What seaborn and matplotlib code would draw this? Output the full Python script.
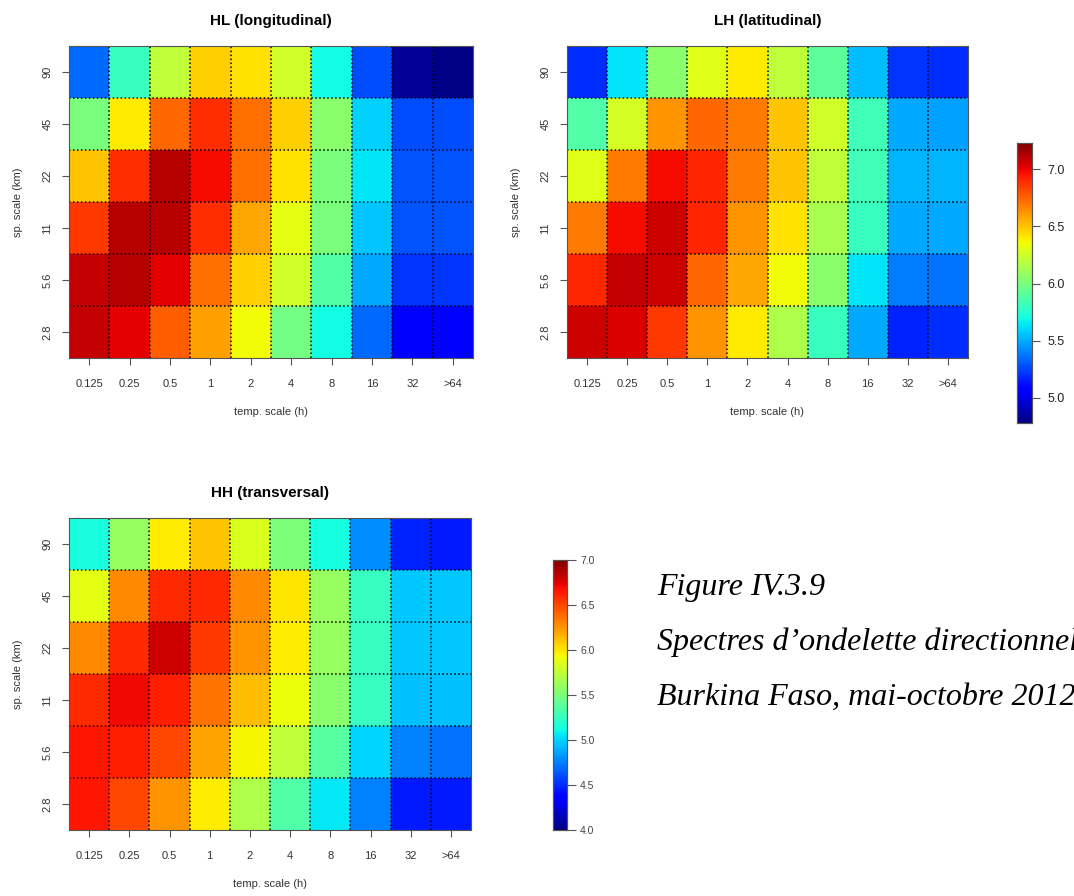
import numpy as np
import pandas as pd
import matplotlib
matplotlib.use("Agg")
import matplotlib.pyplot as plt
import seaborn as sns

# axis categories
temp_scale = ["0.125", "0.25", "0.5", "1", "2", "4", "8", "16", "32", ">64"]
sp_scale = ["90", "45", "22", "11", "5.6", "2.8"]  # top to bottom

# spectra values (rows: sp. scale from 90 down to 2.8)
hl_values = [
    [5.34, 5.81, 6.20, 6.47, 6.42, 6.25, 5.69, 5.27, 4.83, 4.79],
    [6.00, 6.40, 6.74, 6.89, 6.72, 6.47, 6.05, 5.59, 5.27, 5.27],
    [6.50, 6.89, 7.11, 6.98, 6.72, 6.42, 6.00, 5.64, 5.29, 5.29],
    [6.86, 7.11, 7.11, 6.89, 6.57, 6.32, 6.00, 5.56, 5.29, 5.29],
    [7.08, 7.11, 7.01, 6.72, 6.47, 6.25, 5.88, 5.49, 5.22, 5.22],
    [7.08, 7.01, 6.77, 6.59, 6.35, 5.98, 5.69, 5.34, 5.07, 5.05],
]
lh_values = [
    [5.20, 5.64, 6.05, 6.31, 6.40, 6.20, 5.91, 5.54, 5.22, 5.20],
    [5.88, 6.27, 6.62, 6.74, 6.69, 6.50, 6.25, 5.83, 5.49, 5.47],
    [6.31, 6.69, 6.98, 6.91, 6.69, 6.50, 6.20, 5.83, 5.52, 5.52],
    [6.69, 6.98, 7.06, 6.91, 6.62, 6.42, 6.13, 5.81, 5.49, 5.49],
    [6.91, 7.08, 7.06, 6.74, 6.57, 6.35, 6.05, 5.64, 5.39, 5.37],
    [7.06, 7.03, 6.86, 6.62, 6.40, 6.15, 5.81, 5.49, 5.17, 5.20],
]
hh_values = [
    [5.14, 5.60, 5.98, 6.10, 5.84, 5.50, 5.13, 4.79, 4.48, 4.45],
    [5.88, 6.29, 6.60, 6.60, 6.29, 6.00, 5.60, 5.25, 4.97, 4.97],
    [6.29, 6.60, 6.80, 6.55, 6.25, 5.98, 5.60, 5.25, 4.97, 4.97],
    [6.60, 6.70, 6.63, 6.36, 6.13, 5.90, 5.55, 5.25, 4.94, 4.94],
    [6.66, 6.63, 6.50, 6.21, 5.95, 5.74, 5.37, 5.00, 4.75, 4.72],
    [6.66, 6.50, 6.25, 5.98, 5.68, 5.34, 5.06, 4.75, 4.45, 4.45],
]

top_range = (4.78, 7.23)
bottom_range = (4.0, 7.0)

W, H = 1074, 896
fig = plt.figure(figsize=(W / 100, H / 100), dpi=100)
plt.rcParams['font.family'] = ['Liberation Sans', 'DejaVu Sans']


def px_axes(l, t, r, b):
    return fig.add_axes([l / W, 1 - b / H, (r - l) / W, (b - t) / H])


def draw_panel(ax, values, title, vrange, cax=None):
    df = pd.DataFrame(values, index=sp_scale, columns=temp_scale)
    sns.heatmap(df, ax=ax, cmap="jet", vmin=vrange[0], vmax=vrange[1],
                cbar=cax is not None, cbar_ax=cax)
    nr, nc = df.shape
    for i in range(1, nc):
        ax.axvline(i, color="black", lw=1.1, ls=(0, (1, 1.6)))
    for j in range(1, nr):
        ax.axhline(j, color="black", lw=1.1, ls=(0, (1, 1.6)))
    for s in ax.spines.values():
        s.set_visible(True)
        s.set_color("#555555")
        s.set_linewidth(0.8)
    ax.set_xticks(np.arange(nc) + 0.5)
    ax.set_xticklabels(temp_scale, rotation=0, fontsize=8, color="#333333")
    ax.set_yticks(np.arange(nr) + 0.5)
    ax.set_yticklabels(sp_scale, rotation=90, va="center", fontsize=8, color="#333333")
    ax.tick_params(axis="x", length=5, width=0.8, color="#555555", pad=10)
    ax.tick_params(axis="y", length=5, width=0.8, color="#555555", pad=7)
    ax.set_xlabel("temp. scale (h)", fontsize=8, color="#333333", labelpad=13)
    ax.set_ylabel("sp. scale (km)", fontsize=8, color="#333333", labelpad=14)
    ax.set_title(title, fontsize=11, fontweight="bold", pad=15)
    if cax is not None:
        for s in cax.spines.values():
            s.set_visible(True)
            s.set_color("#555555")
            s.set_linewidth(0.8)


ax_hl = px_axes(69, 46, 473, 358)
ax_lh = px_axes(567, 46, 968, 358)
ax_hh = px_axes(69, 518, 471, 830)
cax_top = px_axes(1017, 143, 1032, 423)
cax_bot = px_axes(553, 560, 567, 830)

draw_panel(ax_hl, hl_values, "HL (longitudinal)", top_range, cax_top)
draw_panel(ax_lh, lh_values, "LH (latitudinal)", top_range)
draw_panel(ax_hh, hh_values, "HH (transversal)", bottom_range, cax_bot)

cax_top.set_yticks([5.0, 5.5, 6.0, 6.5, 7.0])
cax_top.set_yticklabels(["5.0", "5.5", "6.0", "6.5", "7.0"], fontsize=9, color="#222222")
cax_top.tick_params(length=6, width=0.8, color="#555555", pad=5)
cax_bot.set_yticks([4.0, 4.5, 5.0, 5.5, 6.0, 6.5, 7.0])
cax_bot.set_yticklabels(["4.0", "4.5", "5.0", "5.5", "6.0", "6.5", "7.0"], fontsize=7.5, color="#444444")
cax_bot.tick_params(length=6.5, width=0.8, color="#555555", pad=3)

caption = ["Figure IV.3.9",
           "Spectres d\u2019ondelette directionnels",
           "Burkina Faso, mai-octobre 2012"]
for k, line in enumerate(caption):
    fig.text(657 / W, 1 - (595 + 55 * k) / H, line, fontsize=23, style="italic",
             family=["Liberation Serif", "DejaVu Serif"], va="baseline", ha="left")

fig.savefig("out.png", dpi=100)
